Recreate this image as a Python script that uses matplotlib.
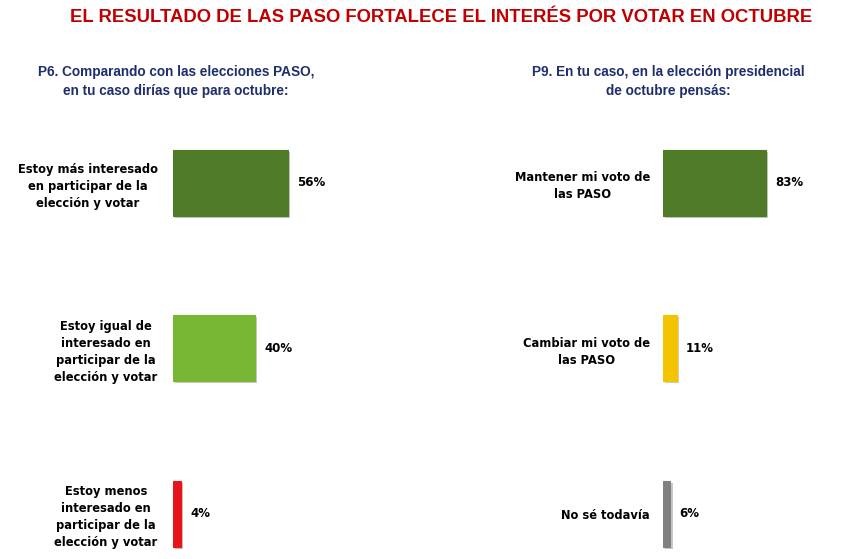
import matplotlib
matplotlib.use("Agg")
import matplotlib.pyplot as plt
import matplotlib.patheffects as pe

title = "EL RESULTADO DE LAS PASO FORTALECE EL INTERÉS POR VOTAR EN OCTUBRE"

left_question = "P6. Comparando con las elecciones PASO,\nen tu caso dirías que para octubre:"
left_categories = [
    "Estoy más interesado\nen participar de la\nelección y votar",
    "Estoy igual de\ninteresado en\nparticipar de la\nelección y votar",
    "Estoy menos\ninteresado en\nparticipar de la\nelección y votar",
]
left_values = [56, 40, 4]
left_colors = ["#4F7A28", "#77B733", "#E8141B"]

right_question = "P9. En tu caso, en la elección presidencial\nde octubre pensás:"
right_categories = [
    "Mantener mi voto de\nlas PASO",
    "Cambiar mi voto de\nlas PASO",
    "No sé todavía",
]
right_values = [83, 11, 6]
right_colors = ["#4F7A28", "#F5C400", "#808080"]

W, H = 850, 559
fig = plt.figure(figsize=(W / 100, H / 100), dpi=100)
fig.patch.set_facecolor("white")

label_font = "DejaVu Sans"


def make_panel(x0_px, px_per_pct, cats, vals, cols, pad):
    top_px, bot_px = 100, 555
    width_px = 100 * px_per_pct
    ax = fig.add_axes([x0_px / W, 1 - bot_px / H, width_px / W, (bot_px - top_px) / H])
    y = list(range(len(vals)))
    bars = ax.barh(y, vals, height=0.4, color=cols, edgecolor=cols, linewidth=0.8)
    for b in bars:
        b.set_path_effects([pe.SimplePatchShadow(offset=(1.5, -1.5), alpha=0.25), pe.Normal()])
    ax.set_xlim(0, 100)
    ax.set_ylim(2.25, -0.5)
    ax.set_yticks(y)
    ax.set_yticklabels(cats, fontsize=8.3, fontweight="bold", family=label_font, linespacing=1.4)
    for lbl in ax.get_yticklabels():
        lbl.set_multialignment("center")
    ax.tick_params(axis="y", length=0, pad=pad)
    ax.set_xticks([])
    for s in ax.spines.values():
        s.set_visible(False)
    for yi, v in zip(y, vals):
        ax.annotate(f"{v}%", xy=(v, yi), xytext=(6.5, 0), textcoords="offset points",
                    va="center", ha="left", fontsize=8.5, fontweight="bold", family=label_font)
    return ax


make_panel(173, 2.05, left_categories, left_values, left_colors, 11)
make_panel(663, 1.24, right_categories, right_values, right_colors, 9.5)

fig.text(441 / W, 1 - 17 / H, title, ha="center", va="center", color="#C00000",
         fontsize=13.3, fontweight="bold", family="Liberation Sans")
fig.text(176 / W, 1 - 81.5 / H, left_question, ha="center", va="center", color="#1F2F6B",
         fontsize=9.8, fontweight="bold", family="Liberation Sans", linespacing=1.45)
fig.text(668 / W, 1 - 81.5 / H, right_question, ha="center", va="center", color="#1F2F6B",
         fontsize=9.8, fontweight="bold", family="Liberation Sans", linespacing=1.45)

fig.savefig("out.png", dpi=100, facecolor="white")
